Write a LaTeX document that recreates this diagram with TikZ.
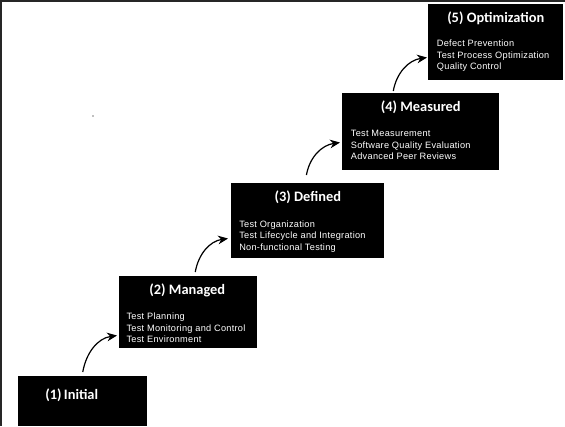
\documentclass[tikz,border=0pt]{standalone}
\usepackage{fontspec}
\usepackage{tikz}
\usetikzlibrary{arrows.meta,positioning}
\newfontfamily\titlefont{Carlito}
\newfontfamily\itemfont[LetterSpace=3]{Liberation Sans}

\begin{document}
\begin{tikzpicture}[
    x=0.75pt, y=-0.75pt,
    level/.style={rectangle, fill=black, inner sep=0pt, anchor=north west},
    heading/.style={text=white, inner sep=0pt, anchor=base, font=\titlefont\bfseries\fontsize{10.8}{12}\selectfont},
    items/.style={text=white, inner sep=0pt, anchor=north west, align=left, font=\itemfont\fontsize{6.9}{8.6}\selectfont},
    arrow/.style={-{Stealth[length=7.5pt, width=6.5pt]}, line width=0.9pt, out=80, in=188}
]
\useasboundingbox (0,0) rectangle (565,426);

% frame on top and left
\draw[black!85, line width=1.5pt] (0.9,426) -- (0.9,0.9) -- (565,0.9);
\fill[black!50] (93,116) circle (0.8);

% the five levels, bottom to top
\node[level, minimum width=96.75pt, minimum height=37.5pt] (initial) at (18,376) {};
\node[level, minimum width=103.5pt, minimum height=54pt] (managed) at (119,276) {};
\node[level, minimum width=114.75pt, minimum height=56.25pt] (defined) at (231,183) {};
\node[level, minimum width=117.75pt, minimum height=57.75pt] (measured) at (342,93) {};
\node[level, minimum width=101.25pt, minimum height=57pt] (optim) at (428,4) {};

% headings
\node[heading, anchor=base west] (initialT) at ([xshift=20.25pt, yshift=-17.5pt]initial.north west) {(1)\,Initial};
\node[heading] (managedT) at ([xshift=-0.75pt, yshift=-13.5pt]managed.north) {(2) Managed};
\node[heading] (definedT) at ([yshift=-14pt]defined.north) {(3) Defined};
\node[heading] (measuredT) at ([yshift=-13.5pt]measured.north) {(4) Measured};
\node[heading] (optimT) at ([yshift=-13.5pt]optim.north) {(5) Optimization};

% practices
\node[items] (managedL) at ([xshift=5.5pt, yshift=-27.5pt]managed.north west) {Test Planning\\Test Monitoring and Control\\Test Environment};
\node[items] (definedL) at ([xshift=6pt, yshift=-28pt]defined.north west) {Test Organization\\Test Lifecycle and Integration\\Non-functional Testing};
\node[items] (measuredL) at ([xshift=6.5pt, yshift=-28pt]measured.north west) {Test Measurement\\Software Quality Evaluation\\Advanced Peer Reviews};
\node[items] (optimL) at ([xshift=6.5pt, yshift=-27pt]optim.north west) {Defect Prevention\\Test Process Optimization\\Quality Control};

% steps up
\draw[arrow] ([yshift=3pt]initial.north) to ([xshift=-1.5pt, yshift=9.75pt]managed.south west);
\draw[arrow] ([xshift=5.25pt, yshift=3pt]managed.north) to ([xshift=-2.25pt, yshift=15pt]defined.south west);
\draw[arrow] ([xshift=-1pt, yshift=6pt]defined.north) to ([xshift=-1.5pt, yshift=21pt]measured.south west);
\draw[arrow] ([xshift=-20.6pt, yshift=1.5pt]measured.north) to ([xshift=-0.75pt, yshift=17.25pt]optim.south west);

\end{tikzpicture}
\end{document}
